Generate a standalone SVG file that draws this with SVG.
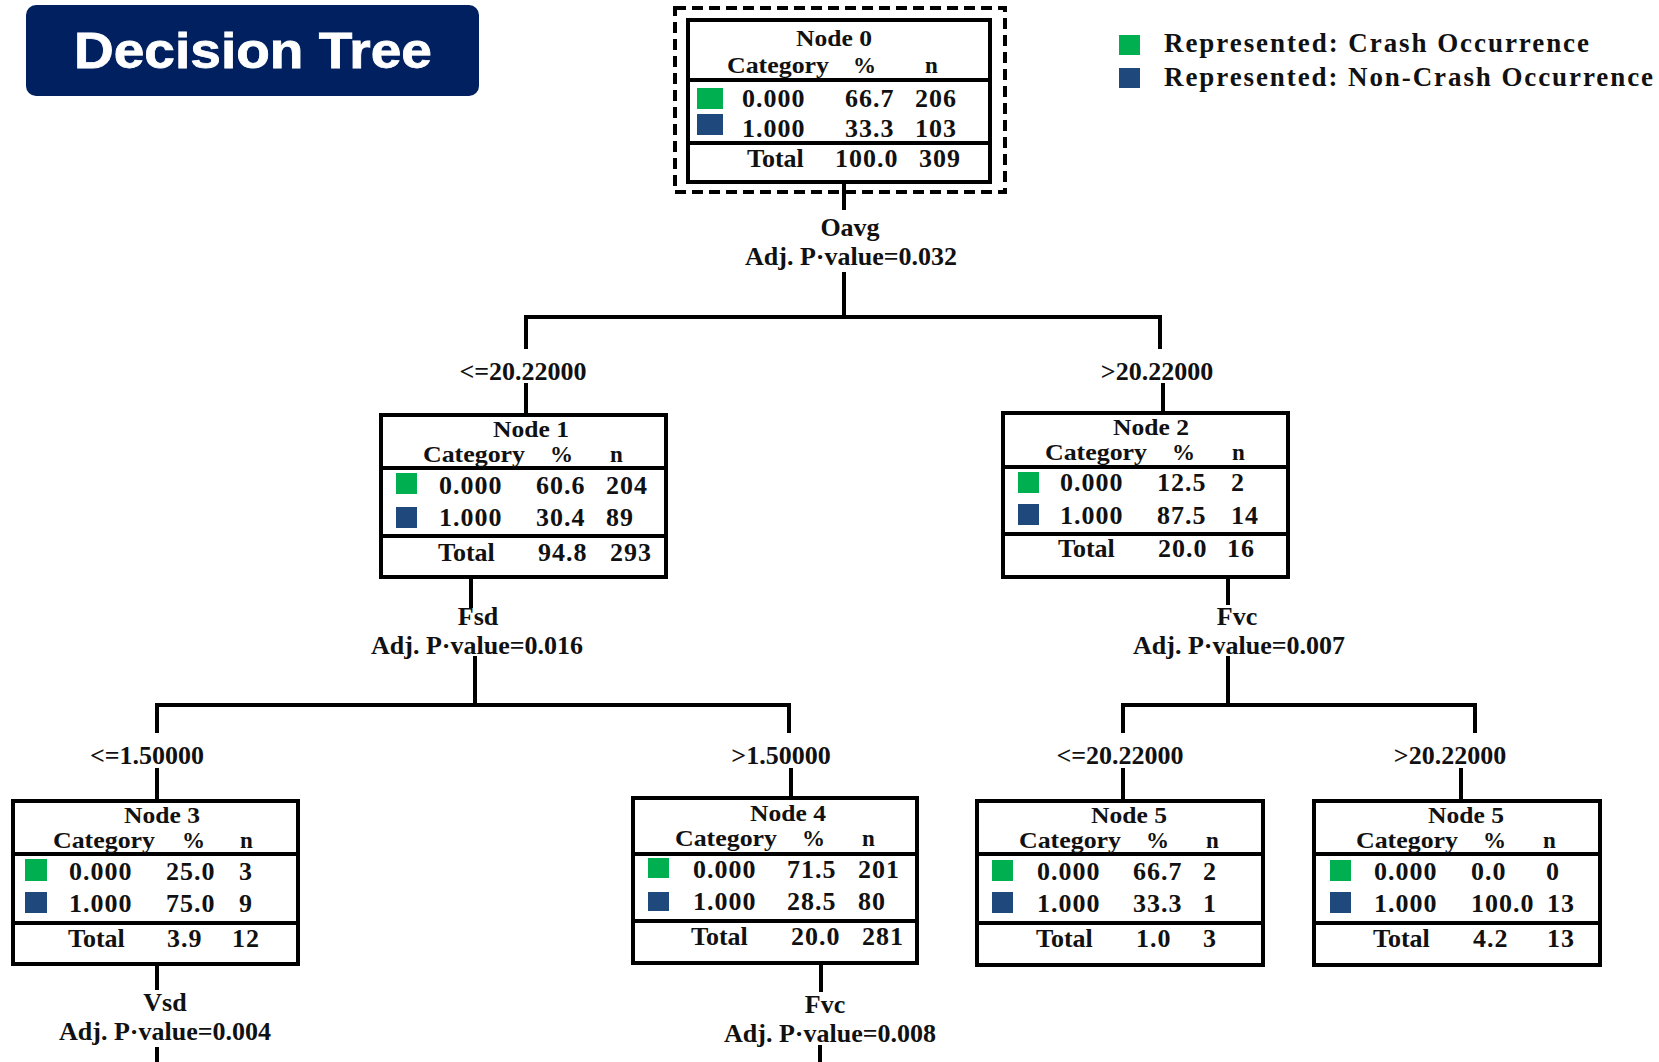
<svg xmlns="http://www.w3.org/2000/svg" width="1659" height="1062" viewBox="0 0 1659 1062">
<style>
.t{font-family:"Liberation Serif","Times New Roman",serif;font-weight:bold;font-size:26px;fill:#111}
.h{font-size:23px}
.d{letter-spacing:1px}
.c{text-anchor:middle}
.box{fill:#fff;stroke:#000;stroke-width:4}
.sep{stroke:#000;stroke-width:4}
.g{fill:#00b050}
.b{fill:#1f497d}
.conn{fill:none;stroke:#000;stroke-width:4;stroke-linejoin:miter}
.lg{font-family:"Liberation Serif","Times New Roman",serif;font-weight:bold;font-size:27px;fill:#111}
</style>
<rect width="1659" height="1062" fill="#fff"/>

<g id="title">
<rect x="26" y="5" width="453" height="91" rx="10" fill="#002060"/>
<text x="74" y="68" font-family="Liberation Sans, Arial, sans-serif" font-weight="bold" font-size="50" fill="#fff" stroke="#fff" stroke-width="0.8" textLength="358" lengthAdjust="spacingAndGlyphs">Decision Tree</text>
</g>

<g id="legend">
<rect class="g" x="1119" y="35" width="21" height="20"/>
<text class="lg" x="1164" y="52" textLength="425" lengthAdjust="spacing">Represented: Crash Occurrence</text>
<rect class="b" x="1119" y="68" width="21" height="20"/>
<text class="lg" x="1164" y="86" textLength="489" lengthAdjust="spacing">Represented: Non-Crash Occurrence</text>
</g>

<g id="connectors">
<path class="conn" d="M844,182V210"/>
<path class="conn" d="M844,272V317"/>
<polyline class="conn" points="526,349 526,317 1160,317 1160,349"/>
<path class="conn" d="M526,383V415"/>
<path class="conn" d="M1163,383V413"/>
<path class="conn" d="M471,577V608"/>
<path class="conn" d="M475,656V705"/>
<polyline class="conn" points="157,733 157,705 789,705 789,733"/>
<path class="conn" d="M157,768V801"/>
<path class="conn" d="M791,768V798"/>
<path class="conn" d="M1228,577V605"/>
<path class="conn" d="M1228,656V705"/>
<polyline class="conn" points="1123,733 1123,705 1475,705 1475,733"/>
<path class="conn" d="M1123,768V801"/>
<path class="conn" d="M1461,768V801"/>
<path class="conn" d="M157,964V990"/>
<path class="conn" d="M157,1047V1062"/>
<path class="conn" d="M821,963V992"/>
<path class="conn" d="M820,1045V1062"/>
<text class="t c" x="850" y="236">Oavg</text>
<text class="t c" x="851" y="265">Adj. P·value=0.032</text>
<text class="t c" x="523" y="380">&lt;=20.22000</text>
<text class="t c" x="1157" y="380">&gt;20.22000</text>
<text class="t c" x="478" y="625">Fsd</text>
<text class="t c" x="477" y="654">Adj. P·value=0.016</text>
<text class="t c" x="1237" y="625">Fvc</text>
<text class="t c" x="1239" y="654">Adj. P·value=0.007</text>
<text class="t c" x="147" y="764">&lt;=1.50000</text>
<text class="t c" x="781" y="764">&gt;1.50000</text>
<text class="t c" x="1120" y="764">&lt;=20.22000</text>
<text class="t c" x="1450" y="764">&gt;20.22000</text>
<text class="t c" x="165" y="1011">Vsd</text>
<text class="t c" x="165" y="1040">Adj. P·value=0.004</text>
<text class="t c" x="825" y="1013">Fvc</text>
<text class="t c" x="830" y="1042">Adj. P·value=0.008</text>
</g>

<g id="node0">
<rect x="675" y="8" width="330" height="184" fill="none" stroke="#000" stroke-width="4" stroke-dasharray="11 6"/>
<g transform="translate(688,20)">
<rect class="box" x="0" y="0" width="302" height="162"/>
<line class="sep" x1="0" y1="60" x2="302" y2="60"/>
<line class="sep" x1="0" y1="123" x2="302" y2="123"/>
<text class="t h c" x="146" y="26" textLength="76" lengthAdjust="spacingAndGlyphs">Node 0</text>
<text class="t h" x="39" y="53" textLength="102" lengthAdjust="spacingAndGlyphs">Category</text>
<text class="t h" x="165" y="53">%</text>
<text class="t h" x="237" y="53">n</text>
<rect class="g" x="9" y="68" width="26" height="21"/>
<rect class="b" x="9" y="94" width="26" height="21"/>
<text class="t d" x="54" y="87">0.000</text><text class="t d" x="157" y="87">66.7</text><text class="t d" x="227" y="87">206</text>
<text class="t d" x="54" y="117">1.000</text><text class="t d" x="157" y="117">33.3</text><text class="t d" x="227" y="117">103</text>
<text class="t" x="59" y="147">Total</text><text class="t d" x="147" y="147">100.0</text><text class="t d" x="231" y="147">309</text>
</g>
</g>

<g id="node1" transform="translate(381,415)">
<rect class="box" x="0" y="0" width="285" height="162"/>
<line class="sep" x1="0" y1="53" x2="285" y2="53"/>
<line class="sep" x1="0" y1="121" x2="285" y2="121"/>
<text class="t h c" x="150" y="22" textLength="76" lengthAdjust="spacingAndGlyphs">Node 1</text>
<text class="t h" x="42" y="47" textLength="102" lengthAdjust="spacingAndGlyphs">Category</text><text class="t h" x="169" y="47">%</text><text class="t h" x="229" y="47">n</text>
<rect class="g" x="15" y="58" width="21" height="21"/>
<rect class="b" x="15" y="92" width="21" height="21"/>
<text class="t d" x="58" y="79">0.000</text><text class="t d" x="155" y="79">60.6</text><text class="t d" x="225" y="79">204</text>
<text class="t d" x="58" y="111">1.000</text><text class="t d" x="155" y="111">30.4</text><text class="t d" x="225" y="111">89</text>
<text class="t" x="57" y="146">Total</text><text class="t d" x="157" y="146">94.8</text><text class="t d" x="229" y="146">293</text>
</g>

<g id="node2" transform="translate(1003,413)">
<rect class="box" x="0" y="0" width="285" height="164"/>
<line class="sep" x1="0" y1="54" x2="285" y2="54"/>
<line class="sep" x1="0" y1="121" x2="285" y2="121"/>
<text class="t h c" x="148" y="22" textLength="76" lengthAdjust="spacingAndGlyphs">Node 2</text>
<text class="t h" x="42" y="47" textLength="102" lengthAdjust="spacingAndGlyphs">Category</text><text class="t h" x="169" y="47">%</text><text class="t h" x="229" y="47">n</text>
<rect class="g" x="15" y="59" width="21" height="21"/>
<rect class="b" x="15" y="91" width="21" height="21"/>
<text class="t d" x="57" y="78">0.000</text><text class="t d" x="154" y="78">12.5</text><text class="t d" x="228" y="78">2</text>
<text class="t d" x="57" y="111">1.000</text><text class="t d" x="154" y="111">87.5</text><text class="t d" x="228" y="111">14</text>
<text class="t" x="55" y="144">Total</text><text class="t d" x="155" y="144">20.0</text><text class="t d" x="224" y="144">16</text>
</g>

<g id="node3" transform="translate(13,801)">
<rect class="box" x="0" y="0" width="285" height="163"/>
<line class="sep" x1="0" y1="53" x2="285" y2="53"/>
<line class="sep" x1="0" y1="122" x2="285" y2="122"/>
<text class="t h c" x="149" y="22" textLength="76" lengthAdjust="spacingAndGlyphs">Node 3</text>
<text class="t h" x="40" y="47" textLength="102" lengthAdjust="spacingAndGlyphs">Category</text><text class="t h" x="169" y="47">%</text><text class="t h" x="227" y="47">n</text>
<rect class="g" x="12" y="58" width="22" height="22"/>
<rect class="b" x="12" y="91" width="22" height="21"/>
<text class="t d" x="56" y="79">0.000</text><text class="t d" x="153" y="79">25.0</text><text class="t d" x="226" y="79">3</text>
<text class="t d" x="56" y="111">1.000</text><text class="t d" x="153" y="111">75.0</text><text class="t d" x="226" y="111">9</text>
<text class="t" x="55" y="146">Total</text><text class="t d" x="154" y="146">3.9</text><text class="t d" x="219" y="146">12</text>
</g>

<g id="node4" transform="translate(633,798)">
<rect class="box" x="0" y="0" width="284" height="165"/>
<line class="sep" x1="0" y1="56" x2="284" y2="56"/>
<line class="sep" x1="0" y1="123" x2="284" y2="123"/>
<text class="t h c" x="155" y="23" textLength="76" lengthAdjust="spacingAndGlyphs">Node 4</text>
<text class="t h" x="42" y="48" textLength="102" lengthAdjust="spacingAndGlyphs">Category</text><text class="t h" x="169" y="48">%</text><text class="t h" x="229" y="48">n</text>
<rect class="g" x="15" y="60" width="21" height="20"/>
<rect class="b" x="15" y="94" width="21" height="19"/>
<text class="t d" x="60" y="80">0.000</text><text class="t d" x="154" y="80">71.5</text><text class="t d" x="225" y="80">201</text>
<text class="t d" x="60" y="112">1.000</text><text class="t d" x="154" y="112">28.5</text><text class="t d" x="225" y="112">80</text>
<text class="t" x="58" y="147">Total</text><text class="t d" x="158" y="147">20.0</text><text class="t d" x="229" y="147">281</text>
</g>

<g id="node5a" transform="translate(977,801)">
<rect class="box" x="0" y="0" width="286" height="164"/>
<line class="sep" x1="0" y1="53" x2="286" y2="53"/>
<line class="sep" x1="0" y1="122" x2="286" y2="122"/>
<text class="t h c" x="152" y="22" textLength="76" lengthAdjust="spacingAndGlyphs">Node 5</text>
<text class="t h" x="42" y="47" textLength="102" lengthAdjust="spacingAndGlyphs">Category</text><text class="t h" x="169" y="47">%</text><text class="t h" x="229" y="47">n</text>
<rect class="g" x="15" y="59" width="21" height="21"/>
<rect class="b" x="15" y="91" width="21" height="21"/>
<text class="t d" x="60" y="79">0.000</text><text class="t d" x="156" y="79">66.7</text><text class="t d" x="226" y="79">2</text>
<text class="t d" x="60" y="111">1.000</text><text class="t d" x="156" y="111">33.3</text><text class="t d" x="226" y="111">1</text>
<text class="t" x="59" y="146">Total</text><text class="t d" x="159" y="146">1.0</text><text class="t d" x="226" y="146">3</text>
</g>

<g id="node5b" transform="translate(1314,801)">
<rect class="box" x="0" y="0" width="286" height="164"/>
<line class="sep" x1="0" y1="53" x2="286" y2="53"/>
<line class="sep" x1="0" y1="122" x2="286" y2="122"/>
<text class="t h c" x="152" y="22" textLength="76" lengthAdjust="spacingAndGlyphs">Node 5</text>
<text class="t h" x="42" y="47" textLength="102" lengthAdjust="spacingAndGlyphs">Category</text><text class="t h" x="169" y="47">%</text><text class="t h" x="229" y="47">n</text>
<rect class="g" x="16" y="59" width="21" height="21"/>
<rect class="b" x="16" y="91" width="21" height="21"/>
<text class="t d" x="60" y="79">0.000</text><text class="t d" x="157" y="79">0.0</text><text class="t d" x="232" y="79">0</text>
<text class="t d" x="60" y="111">1.000</text><text class="t d" x="157" y="111">100.0</text><text class="t d" x="233" y="111">13</text>
<text class="t" x="59" y="146">Total</text><text class="t d" x="159" y="146">4.2</text><text class="t d" x="233" y="146">13</text>
</g>
</svg>
